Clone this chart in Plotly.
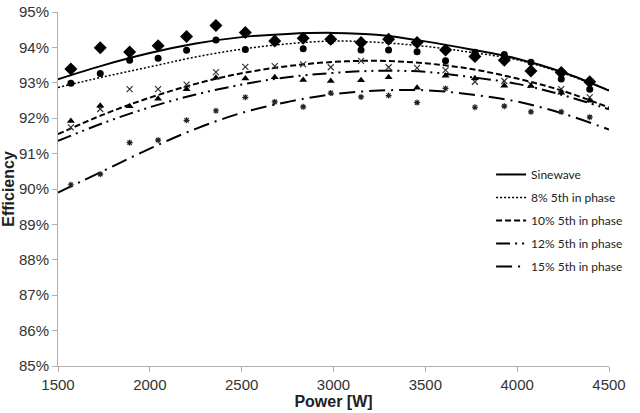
import plotly.graph_objects as go

# Measured points
power = [1570, 1730, 1890, 2045, 2200, 2360, 2520, 2680, 2835, 2985,
         3150, 3300, 3455, 3610, 3770, 3930, 4075, 4240, 4395]

sinewave = [93.39, 93.99, 93.87, 94.05, 94.31, 94.62, 94.42, 94.18, 94.26, 94.23,
            94.14, 94.23, 94.14, 93.93, 93.74, 93.64, 93.33, 93.29, 93.03]
fifth_8 = [92.99, 93.26, 93.64, 93.69, 93.92, 94.21, 93.94, 94.14, 93.96, 94.18,
           93.93, 93.93, 93.88, 93.62, 93.86, 93.80, 93.58, 93.11, 92.82]
fifth_10 = [91.74, 92.26, 92.82, 92.82, 92.95, 93.30, 93.45, 93.47, 93.52, 93.44,
            93.62, 93.44, 93.42, 93.36, 93.03, 93.05, 92.95, 92.82, 92.59]
fifth_12 = [91.92, 92.35, 92.34, 92.55, 92.82, 93.14, 93.12, 93.16, 93.08, 93.05,
            93.07, 93.16, 92.86, 93.20, 93.13, 92.92, 92.91, 92.72, 92.49]
fifth_15 = [90.12, 90.42, 91.31, 91.38, 91.94, 92.21, 92.59, 92.46, 92.32, 92.71,
            92.60, 92.64, 92.44, 92.84, 92.31, 92.34, 92.18, 92.18, 92.03]

# Trend lines
trend_power = [1500, 1750, 2000, 2250, 2500, 2750, 3000, 3250, 3500, 3750, 4000, 4250, 4500]
trend_sine = [93.10, 93.50, 93.84, 94.11, 94.29, 94.38, 94.41, 94.35, 94.17, 93.94, 93.68, 93.30, 92.78]
trend_8 = [92.87, 93.17, 93.45, 93.73, 93.95, 94.10, 94.18, 94.14, 94.03, 93.86, 93.65, 93.27, 92.79]
trend_10 = [91.55, 92.11, 92.58, 92.97, 93.27, 93.47, 93.59, 93.62, 93.55, 93.39, 93.12, 92.77, 92.30]
trend_12 = [91.36, 91.87, 92.31, 92.67, 92.95, 93.16, 93.28, 93.34, 93.31, 93.16, 92.97, 92.65, 92.25]
trend_15 = [89.90, 90.52, 91.14, 91.70, 92.15, 92.46, 92.68, 92.78, 92.79, 92.67, 92.47, 92.13, 91.68]

names = ["Sinewave", "8% 5th in phase", "10% 5th in phase",
         "12% 5th in phase", "15% 5th in phase"]
series = [sinewave, fifth_8, fifth_10, fifth_12, fifth_15]
trends = [trend_sine, trend_8, trend_10, trend_12, trend_15]

x_ticks = [1500, 2000, 2500, 3000, 3500, 4000, 4500]
y_ticks = [85, 86, 87, 88, 89, 90, 91, 92, 93, 94, 95]
y_ticktext = ["85%", "86%", "87%", "88%", "89%", "90%", "91%", "92%", "93%", "94%", "95%"]

markers = [
    dict(symbol="diamond", size=10, color="black"),
    dict(symbol="circle", size=7, color="black"),
    dict(symbol="x-thin-open", size=6, color="#333", line=dict(width=1.2, color="#333")),
    dict(symbol="triangle-up", size=7, color="black"),
    dict(symbol="asterisk-open", size=5, color="#222", line=dict(width=1.2, color="#222")),
]
lines = [
    dict(color="black", width=2),
    dict(color="black", width=1.5, dash="2px,2px"),
    dict(color="black", width=2, dash="6px,3px"),
    dict(color="black", width=2, dash="14px,5px,2px,5px,2px,5px"),
    dict(color="black", width=2, dash="16px,6px,2px,6px"),
]

fig = go.Figure()
for i, nm in enumerate(names):
    fig.add_trace(go.Scatter(x=trend_power, y=trends[i], mode="lines",
                             line=dict(shape="spline", smoothing=1.0, **lines[i]),
                             name=nm, legendgroup=nm, hoverinfo="skip"))
for i, nm in enumerate(names):
    fig.add_trace(go.Scatter(x=power, y=series[i], mode="markers", marker=markers[i],
                             showlegend=False, name=nm))

fig.update_layout(
    width=640, height=413,
    margin=dict(l=58, r=20, t=12, b=47),
    paper_bgcolor="white", plot_bgcolor="white",
    font=dict(family="Liberation Sans, Arial, sans-serif", color="#222"),
    legend=dict(x=0.786, y=0.582, xanchor="left", yanchor="top",
                font=dict(family="Lato, sans-serif", size=12, color="#222"),
                tracegroupgap=4, bgcolor="rgba(0,0,0,0)"),
    xaxis=dict(range=[1500, 4500], tickvals=x_ticks, showgrid=False, automargin=False,
               showline=True, linecolor="#b0b0b0", linewidth=1,
               ticks="outside", ticklen=5, tickcolor="#b0b0b0",
               tickfont=dict(size=15, color="#333"), zeroline=False,
               title=dict(text="<b>Power [W]</b>", font=dict(size=16), standoff=2)),
    yaxis=dict(range=[85, 95], tickvals=y_ticks, ticktext=y_ticktext, showgrid=False,
               automargin=False,
               showline=True, linecolor="#b0b0b0", linewidth=1,
               ticks="outside", ticklen=5, tickcolor="#b0b0b0",
               tickfont=dict(size=15, color="#333"), zeroline=False,
               title=dict(text="<b>Efficiency</b>", font=dict(size=16), standoff=3)),
)

fig.write_html("out.html", config={"displayModeBar": False},
               post_script="document.body.style.margin='0px';document.body.style.overflow='hidden';")
